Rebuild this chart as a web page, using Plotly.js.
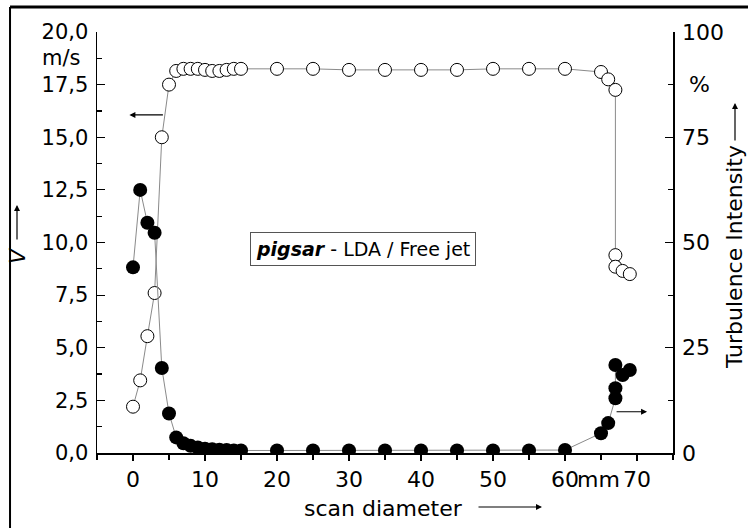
<!DOCTYPE html>
<html>
<head>
<meta charset="utf-8">
<script src="https://cdn.plot.ly/plotly-3.0.1.min.js"></script>
<style>html,body{margin:0;padding:0;background:#fff;}#chart{width:748px;height:528px;}</style>
</head>
<body>
<div id="chart"></div>
<script>
// Scan positions (mm)
const scanX = [0,1,2,3,4,5,6,7,8,9,10,11,12,13,14,15,20,25,30,35,40,45,50,55,60,65,66,67,67,67,68,69];
// Velocity V (m/s), open circles, left axis
const velocity = [2.2,3.45,5.55,7.6,15.0,17.5,18.15,18.25,18.25,18.25,18.2,18.15,18.15,18.2,18.25,18.25,18.25,18.25,18.2,18.2,18.2,18.2,18.25,18.25,18.25,18.1,17.75,17.25,9.4,8.85,8.65,8.5];
// Turbulence intensity (%), filled circles, right axis
const turbulence = [44.1,62.5,54.7,52.3,20.2,9.4,3.7,2.3,1.7,1.3,1.0,0.9,0.8,0.7,0.6,0.6,0.6,0.6,0.6,0.6,0.6,0.6,0.6,0.6,0.7,4.7,7.1,13.0,15.4,20.9,18.5,19.7];

const xTickVals = [0,10,20,30,40,50,60,70];
const xTickText = ["0","10","20","30","40","50","60","70"];
const yTickVals = [0,2.5,5,7.5,10,12.5,15,17.5,20];
const yTickText = ["0,0","2,5","5,0","7,5","10,0","12,5","15,0","17,5","20,0"];
const y2TickVals = [0,25,50,75,100];
const y2TickText = ["0","25","50","75","100"];

const FONT = "DejaVu Sans, Liberation Sans, Arial, sans-serif";

const traces = [
  {
    x: scanX, y: velocity, type: "scatter", mode: "lines+markers", yaxis: "y",
    line: {color: "#8a8a8a", width: 1},
    marker: {symbol: "circle", size: 13, color: "#ffffff", line: {color: "#000", width: 1}},
    hoverinfo: "skip", showlegend: false
  },
  {
    x: scanX, y: turbulence, type: "scatter", mode: "lines+markers", yaxis: "y2",
    line: {color: "#8a8a8a", width: 1},
    marker: {symbol: "circle", size: 14, color: "#000000", line: {color: "#000", width: 0}},
    hoverinfo: "skip", showlegend: false
  }
];

const arrowBase = {text: "", showarrow: true, arrowhead: 2, arrowsize: 1, arrowwidth: 1.2, arrowcolor: "#000", standoff: 0, startstandoff: 0};

const layout = {
  width: 748, height: 528,
  margin: {l: 97, r: 75, t: 32, b: 75, pad: 0},
  paper_bgcolor: "#ffffff", plot_bgcolor: "#ffffff",
  font: {family: FONT, color: "#000", size: 20},
  showlegend: false,
  xaxis: {
    range: [-5, 75], showgrid: false, zeroline: false,
    showline: true, linecolor: "#000", linewidth: 1.5,
    tickmode: "array", tickvals: xTickVals, ticktext: xTickText, tickangle: 0,
    ticks: "outside", ticklen: 6, tickwidth: 1.2, tickcolor: "#000",
    tickfont: {family: FONT, size: 22, color: "#000"},
    minor: {tickmode: "linear", tick0: 0, dtick: 5, ticks: "outside", ticklen: 5, tickwidth: 1.2, tickcolor: "#000", showgrid: false}
  },
  yaxis: {
    range: [0, 20], showgrid: false, zeroline: false,
    showline: true, linecolor: "#000", linewidth: 1.5,
    tickmode: "array", tickvals: yTickVals, ticktext: yTickText,
    ticks: "inside", ticklen: 8, tickwidth: 1.2, tickcolor: "#000", ticklabelstandoff: 3,
    tickfont: {family: FONT, size: 21, color: "#000"},
    minor: {tickmode: "linear", tick0: 0, dtick: 1.25, ticks: "inside", ticklen: 5, tickwidth: 1.2, tickcolor: "#000", showgrid: false}
  },
  yaxis2: {
    range: [0, 100], overlaying: "y", side: "right", showgrid: false, zeroline: false,
    showline: true, linecolor: "#000", linewidth: 1.5,
    tickmode: "array", tickvals: y2TickVals, ticktext: y2TickText,
    ticks: "inside", ticklen: 8, tickwidth: 1.2, tickcolor: "#000", ticklabelstandoff: 3,
    tickfont: {family: FONT, size: 22, color: "#000"},
    minor: {tickmode: "linear", tick0: 0, dtick: 12.5, ticks: "inside", ticklen: 5, tickwidth: 1.2, tickcolor: "#000", showgrid: false}
  },
  shapes: [
    {type: "line", xref: "paper", yref: "paper", x0: -0.151, x1: 1.2, y0: 1.0594, y1: 1.0594, line: {color: "#000", width: 3}},
    {type: "line", xref: "paper", yref: "paper", x0: -0.151, x1: -0.151, y0: 1.0594, y1: -0.2, line: {color: "#000", width: 2}}
  ],
  annotations: [
    // unit labels on axes
    {xref: "paper", yref: "y", x: -0.026, y: 18.75, xanchor: "right", yanchor: "middle", text: "m/s", showarrow: false, font: {family: FONT, size: 21, color: "#000"}},
    {xref: "paper", yref: "y2", x: 1.025, y: 87.5, xanchor: "left", yanchor: "middle", text: "%", showarrow: false, font: {family: FONT, size: 22, color: "#000"}},
    {xref: "x", yref: "paper", x: 64.6, y: (453 - 479) / 421, xanchor: "center", yanchor: "middle", text: "mm", showarrow: false, font: {family: FONT, size: 22, color: "#000"}},
    // axis titles
    {xref: "paper", yref: "paper", x: (383 - 97) / 576, y: (453 - 508) / 421, xanchor: "center", yanchor: "middle", text: "scan diameter", showarrow: false, font: {family: FONT, size: 22, color: "#000"}},
    {xref: "paper", yref: "paper", x: (17 - 97) / 576, y: (453 - 256) / 421, xanchor: "center", yanchor: "middle", text: "<i>V</i>", textangle: -90, showarrow: false, font: {family: FONT, size: 22, color: "#000"}},
    {xref: "paper", yref: "paper", x: (734 - 97) / 576, y: (453 - 257) / 421, xanchor: "center", yanchor: "middle", text: "Turbulence Intensity", textangle: -90, showarrow: false, font: {family: FONT, size: 22, color: "#000"}},
    // title arrows
    Object.assign({xref: "paper", yref: "paper", x: (542 - 97) / 576, y: (453 - 507) / 421, ax: -65, ay: 0}, arrowBase),
    Object.assign({xref: "paper", yref: "paper", x: (17 - 97) / 576, y: (453 - 205) / 421, ax: 0, ay: 36}, arrowBase),
    Object.assign({xref: "paper", yref: "paper", x: (735 - 97) / 576, y: (453 - 103) / 421, ax: 0, ay: 39}, arrowBase),
    // series arrows inside plot
    Object.assign({xref: "x", yref: "y", x: -0.5, y: 16.06, ax: 35, ay: 0}, arrowBase),
    Object.assign({xref: "x", yref: "y", x: 71.4, y: 1.96, ax: -32, ay: 0}, arrowBase),
    // label box
    {xref: "x", yref: "y", x: 32.0, y: 9.7, xanchor: "center", yanchor: "middle", showarrow: false,
     text: "<b><i>pigsar</i></b> - LDA / Free jet", font: {family: FONT, size: 19, color: "#000"},
     bordercolor: "#555", borderwidth: 1, borderpad: 5, bgcolor: "#ffffff"}
  ]
};

Plotly.newPlot("chart", traces, layout, {staticPlot: true, displayModeBar: false});
</script>
</body>
</html>
